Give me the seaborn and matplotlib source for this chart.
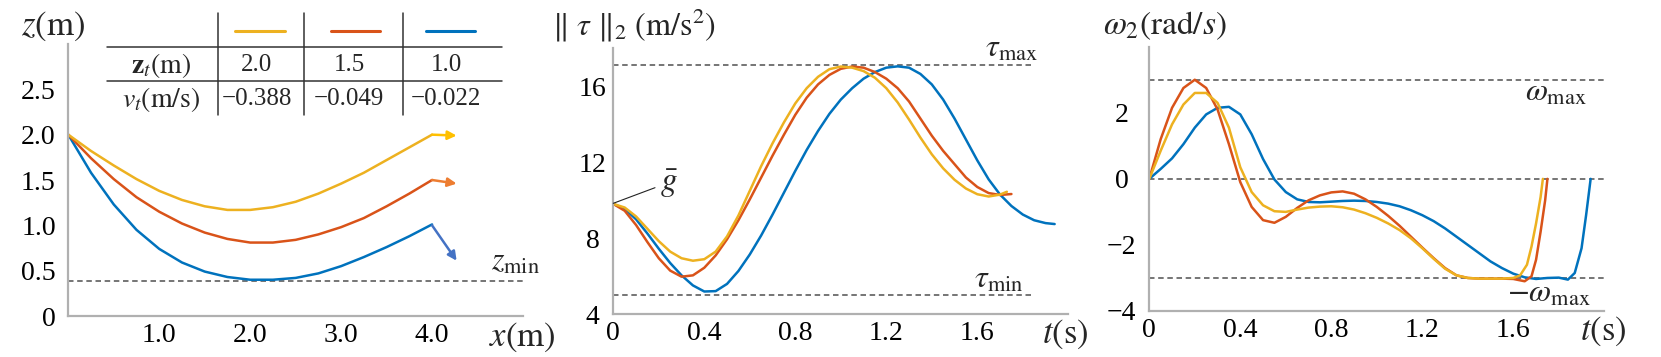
import numpy as np
import pandas as pd
import matplotlib
import matplotlib.pyplot as plt
import seaborn as sns
from matplotlib.lines import Line2D

matplotlib.use("Agg")

# ---------------- data ----------------
case_names = ["z2.0", "z1.5", "z1.0"]
line_colors = ["#EDB120", "#D95319", "#0072BD"]
arrow_colors = ["#FFC000", "#ED7D31", "#4472C4"]
table_zt = ["2.0", "1.5", "1.0"]
table_vt = ["\u22120.388", "\u22120.049", "\u22120.022"]

# panel 1: z(x)
x_pos = [0.0, 0.25, 0.5, 0.75, 1.0, 1.25, 1.5, 1.75, 2.0, 2.25, 2.5, 2.75, 3.0, 3.25, 3.5, 3.75, 4.0]
z_yellow = [2.00, 1.82, 1.66, 1.51, 1.38, 1.28, 1.21, 1.17, 1.17, 1.20, 1.26, 1.35, 1.46, 1.58, 1.72, 1.86, 2.00]
z_red = [2.00, 1.74, 1.51, 1.31, 1.15, 1.02, 0.92, 0.85, 0.81, 0.81, 0.84, 0.90, 0.98, 1.08, 1.21, 1.35, 1.50]
z_blue = [2.00, 1.58, 1.23, 0.95, 0.74, 0.59, 0.49, 0.43, 0.40, 0.40, 0.42, 0.47, 0.55, 0.65, 0.76, 0.88, 1.01]
z_target = [2.0, 1.5, 1.0]
arrow_end_x = [4.27, 4.27, 4.27]
arrow_end_z = [1.99, 1.46, 0.61]
z_min = 0.386

# panel 2: thrust norm
t_grid = [0.00, 0.05, 0.10, 0.15, 0.20, 0.25, 0.30, 0.35, 0.40, 0.45, 0.50, 0.55,
          0.60, 0.65, 0.70, 0.75, 0.80, 0.85, 0.90, 0.95, 1.00, 1.05, 1.10, 1.15,
          1.20, 1.25, 1.30, 1.35, 1.40, 1.45, 1.50, 1.55, 1.60, 1.65, 1.70]
tau_yellow = [9.81, 9.62, 9.15, 8.50, 7.85, 7.30, 6.95, 6.82, 6.90, 7.30, 8.10, 9.20,
              10.50, 11.80, 13.00, 14.10, 15.10, 15.90, 16.50, 16.90, 17.04, 16.98, 16.80, 16.45,
              15.90, 15.15, 14.25, 13.30, 12.42, 11.68, 11.08, 10.62, 10.32, 10.20, 10.30]
tau_yellow_tail_t = [1.73]
tau_yellow_tail = [10.45]
tau_red = [9.81, 9.45, 8.70, 7.80, 6.95, 6.30, 5.98, 6.05, 6.45, 7.10, 7.95, 8.95,
           10.05, 11.20, 12.35, 13.45, 14.50, 15.40, 16.10, 16.60, 16.92, 17.04, 16.98, 16.75,
           16.40, 15.90, 15.20, 14.30, 13.40, 12.60, 11.90, 11.20, 10.70, 10.38, 10.28]
tau_red_tail_t = [1.75]
tau_red_tail = [10.33]
tau_blue = [9.81, 9.55, 9.00, 8.25, 7.45, 6.70, 6.05, 5.52, 5.20, 5.22, 5.60, 6.28,
            7.15, 8.15, 9.25, 10.40, 11.55, 12.65, 13.65, 14.55, 15.30, 15.90, 16.40, 16.75,
            16.98, 17.05, 16.98, 16.65, 16.10, 15.30, 14.30, 13.20, 12.10, 11.10, 10.30]
tau_blue_tail_t = [1.75, 1.80, 1.85, 1.90, 1.94]
tau_blue_tail = [9.70, 9.25, 8.95, 8.80, 8.75]
g_bar = 9.81
tau_max = 17.1
tau_min = 5.0

# panel 3: body rate
w_grid = [0.00, 0.05, 0.10, 0.15, 0.20, 0.25, 0.30, 0.35, 0.40, 0.45, 0.50, 0.55,
          0.60, 0.65, 0.70, 0.75, 0.80, 0.85, 0.90, 0.95, 1.00, 1.05, 1.10, 1.15,
          1.20, 1.25, 1.30, 1.35, 1.40, 1.45, 1.50, 1.55, 1.60]
w_yellow = [0.00, 0.85, 1.65, 2.25, 2.60, 2.60, 2.30, 1.55, 0.35, -0.40, -0.80, -0.98,
            -1.00, -0.93, -0.87, -0.84, -0.83, -0.86, -0.93, -1.04, -1.18, -1.35, -1.55, -1.80,
            -2.10, -2.42, -2.72, -2.92, -3.00, -3.02, -3.02, -3.02, -3.00]
w_yellow_tail_t = [1.63, 1.66, 1.68, 1.70, 1.72, 1.73]
w_yellow_tail = [-2.92, -2.60, -2.05, -1.35, -0.55, 0.00]
w_red = [0.00, 1.20, 2.15, 2.75, 3.00, 2.75, 2.10, 1.05, -0.10, -0.85, -1.25, -1.33,
         -1.15, -0.88, -0.65, -0.50, -0.41, -0.38, -0.45, -0.62, -0.85, -1.12, -1.42, -1.75,
         -2.08, -2.40, -2.70, -2.92, -3.00, -3.02, -3.02, -3.02, -3.03]
w_red_tail_t = [1.65, 1.68, 1.70, 1.72, 1.74, 1.75]
w_red_tail = [-3.10, -2.95, -2.45, -1.60, -0.65, 0.00]
w_blue = [0.00, 0.30, 0.62, 1.05, 1.55, 1.95, 2.15, 2.18, 1.95, 1.35, 0.60, -0.02,
          -0.40, -0.62, -0.70, -0.71, -0.69, -0.67, -0.66, -0.67, -0.70, -0.75, -0.83, -0.95,
          -1.10, -1.28, -1.50, -1.75, -2.00, -2.25, -2.50, -2.70, -2.87]
w_blue_tail_t = [1.65, 1.70, 1.75, 1.80, 1.84, 1.87, 1.90, 1.92, 1.94]
w_blue_tail = [-2.98, -3.03, -3.00, -2.99, -3.05, -2.85, -2.10, -1.10, 0.00]
w_max = 3.0

# ---------------- frames ----------------
df_z = pd.concat([
    pd.DataFrame({"x": x_pos, "z": z, "case": name})
    for z, name in zip([z_yellow, z_red, z_blue], case_names)
])
df_tau = pd.concat([
    pd.DataFrame({"t": t_grid + tt, "v": v + vt, "case": name})
    for v, tt, vt, name in zip(
        [tau_yellow, tau_red, tau_blue],
        [tau_yellow_tail_t, tau_red_tail_t, tau_blue_tail_t],
        [tau_yellow_tail, tau_red_tail, tau_blue_tail],
        case_names)
])
df_w = pd.concat([
    pd.DataFrame({"t": w_grid + tt, "v": v + vt, "case": name})
    for v, tt, vt, name in zip(
        [w_yellow, w_red, w_blue],
        [w_yellow_tail_t, w_red_tail_t, w_blue_tail_t],
        [w_yellow_tail, w_red_tail, w_blue_tail],
        case_names)
])

# ---------------- style ----------------
sns.set_theme(style="white")
plt.rcParams["font.family"] = ["Liberation Serif", "DejaVu Serif"]
plt.rcParams["mathtext.fontset"] = "stix"

W, H = 1661, 357
fig = plt.figure(figsize=(W / 100, H / 100), dpi=100)
spine_gray = "#b0b0b0"
dash_gray = "#505050"
palette = dict(zip(case_names, line_colors))
draw_order = case_names[::-1]  # yellow on top
TICK_SIZE = 20


def P(x, y):
    """pixel position in the 1661x357 canvas -> figure fraction"""
    return x / W, 1 - y / H


def style_axis(ax):
    for side in ["top", "right"]:
        ax.spines[side].set_visible(False)
    for side in ["left", "bottom"]:
        ax.spines[side].set_color(spine_gray)
        ax.spines[side].set_linewidth(1.6)
    ax.tick_params(direction="in", length=3.5, width=1.3, color=spine_gray,
                   labelsize=TICK_SIZE, labelcolor="black")
    ax.tick_params(axis="x", pad=5)
    ax.set_xlabel("")
    ax.set_ylabel("")
    ax.set_facecolor("none")


def draw_lines(ax, df, x, y):
    sns.lineplot(data=df, x=x, y=y, hue="case", hue_order=draw_order, palette=palette,
                 sort=False, estimator=None, legend=False, linewidth=1.8, ax=ax)
    for ln in ax.lines:
        ln.set_clip_on(False)
        ln.set_solid_joinstyle("round")


# ---- panel 1 ----
ax1 = fig.add_axes([68.3 / W, 41 / H, 454.7 / W, 272 / H])
draw_lines(ax1, df_z, "x", "z")
ax1.axhline(z_min, color=dash_gray, lw=1.1, ls=(0, (3.6, 2.4)), zorder=1)
for zt, ex, ez, col in zip(z_target, arrow_end_x, arrow_end_z, arrow_colors):
    ax1.annotate("", xy=(ex, ez), xytext=(x_pos[-1], zt),
                 arrowprops=dict(arrowstyle="-|>", color=col, lw=1.8,
                                 mutation_scale=13, shrinkA=0, shrinkB=0),
                 annotation_clip=False)
ax1.set_xlim(0, 5.0)
ax1.set_ylim(0, 3.0)
ax1.set_xticks(np.arange(0.5, 5.0, 0.5))
ax1.set_xticklabels(["", "1.0", "", "2.0", "", "3.0", "", "4.0", ""])
ax1.set_yticks(np.arange(0, 3.01, 0.5))
ax1.set_yticklabels(["0", "0.5", "1.0", "1.5", "2.0", "2.5", ""])
style_axis(ax1)
ax1.tick_params(axis="y", pad=9)

# ---- panel 2 ----
ax2 = fig.add_axes([613.3 / W, 42.7 / H, 455 / W, 266 / H])
draw_lines(ax2, df_tau, "t", "v")
ax2.hlines([tau_max, tau_min], 0, 1.84, color=dash_gray, lw=1.1, ls=(0, (3.6, 2.4)), zorder=1)
ax2.set_xlim(0, 2.0)
ax2.set_ylim(4, 18)
ax2.set_xticks(np.arange(0, 2.01, 0.2))
ax2.set_xticklabels(["0", "", "0.4", "", "0.8", "", "1.2", "", "1.6", "", ""])
ax2.set_yticks(np.arange(4, 18.1, 2))
ax2.set_yticklabels(["4", "", "8", "", "12", "", "16", ""])
style_axis(ax2)
ax2.tick_params(axis="y", pad=15)
for lab in ax2.get_yticklabels():
    lab.set_ha("center")

# ---- panel 3 ----
ax3 = fig.add_axes([1149.3 / W, 46 / H, 455 / W, 264.3 / H])
draw_lines(ax3, df_w, "t", "v")
for level in [w_max, 0, -w_max]:
    ax3.axhline(level, color=dash_gray, lw=1.1, ls=(0, (3.6, 2.4)), zorder=1)
ax3.set_xlim(0, 2.0)
ax3.set_ylim(-4, 4)
ax3.set_xticks(np.arange(0, 2.01, 0.2))
ax3.set_xticklabels(["0", "", "0.4", "", "0.8", "", "1.2", "", "1.6", "", ""])
ax3.set_yticks(np.arange(-4, 4.1, 1))
ax3.set_yticklabels(["\u22124", "", "\u22122", "", "0", "", "2", "", ""])
style_axis(ax3)
ax3.tick_params(axis="y", pad=20)
for lab in ax3.get_yticklabels():
    lab.set_ha("center")

# ---------------- annotations ----------------
big = 25
fig.text(*P(53, 26), r"$z(\mathrm{m})$", size=big, ha="center", va="center")
fig.text(*P(522, 337), r"$x(\mathrm{m})$", size=big, ha="center", va="center")
fig.text(*P(491, 270), r"$z_{\min}$", size=23, ha="left", va="baseline")

fig.text(*P(552, 25), r"$\Vert\ \tau\ \Vert_2\ (\mathrm{m/s^2})$", size=23, ha="left", va="center")
fig.text(*P(985, 57), r"$\tau_{\max}$", size=23, ha="left", va="baseline")
fig.text(*P(974, 288), r"$\tau_{\min}$", size=23, ha="left", va="baseline")
fig.text(*P(1065, 334), r"$t(\mathrm{s})$", size=big, ha="center", va="center")
fig.text(*P(660, 184), r"$\bar{g}$", size=24, ha="left", va="center")
fig.add_artist(Line2D([P(613.3, 203.3)[0], P(655, 187.7)[0]],
                      [P(613.3, 203.3)[1], P(655, 187.7)[1]],
                      transform=fig.transFigure, color="#222222", lw=0.8))

fig.text(*P(1103, 26), r"$\omega_2(\mathrm{rad}/s)$", size=24, ha="left", va="center")
fig.text(*P(1525, 101), r"$\omega_{\max}$", size=23, ha="left", va="baseline")
fig.text(*P(1507, 302), r"$-\omega_{\max}$", size=23, ha="left", va="baseline")
fig.text(*P(1603, 331), r"$t(\mathrm{s})$", size=big, ha="center", va="center")

# ---------------- table ----------------
tab_col = "#333333"
for xv in [217.7, 304.3, 403.3]:
    (x0, y0), (x1, y1) = P(xv, 12.7), P(xv, 115)
    fig.add_artist(Line2D([x0, x1], [y0, y1], transform=fig.transFigure, color=tab_col, lw=1.1))
for yv in [47.3, 81]:
    (x0, y0), (x1, y1) = P(107.3, yv), P(502, yv)
    fig.add_artist(Line2D([x0, x1], [y0, y1], transform=fig.transFigure, color=tab_col, lw=1.1))
for (xa, xb), col in zip([(235, 285), (330.7, 380), (425.7, 475)], line_colors):
    (x0, y0), (x1, y1) = P(xa, 31), P(xb, 31)
    fig.add_artist(Line2D([x0, x1], [y0, y1], transform=fig.transFigure, color=col, lw=2.2))
fig.text(*P(161, 65), r"$\mathbf{z}_t(\mathrm{m})$", size=20, ha="center", va="center")
fig.text(*P(161, 99), r"$v_t(\mathrm{m/s})$", size=20, ha="center", va="center")
for xc, zt_s, vt_s in zip([257, 349, 446], table_zt, table_vt):
    fig.text(*P(xc, 65), zt_s, size=18, ha="center", va="center")
    fig.text(*P(xc, 99), vt_s, size=18, ha="center", va="center")

fig.savefig("out.png", dpi=100)
